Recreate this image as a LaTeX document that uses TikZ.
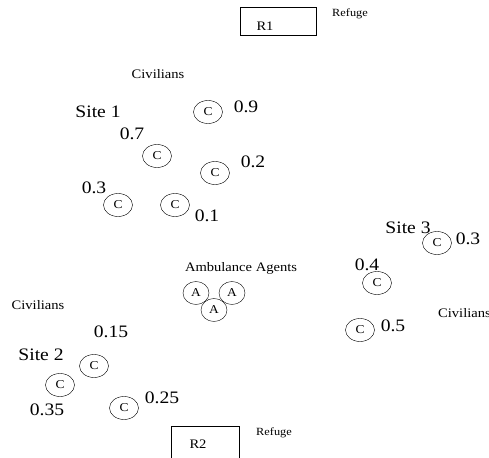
\documentclass[tikz,border=0pt]{standalone}
\usepackage{fontspec}
\setmainfont[FakeStretch=1.12]{Liberation Serif}
\usetikzlibrary{shapes.geometric}
\begin{document}
\begin{tikzpicture}[x=1pt,y=-1pt,
  civ/.style={ellipse,draw,thin,minimum width=29pt,minimum height=23pt,inner sep=0pt,font=\fontsize{12}{12}\selectfont},
  amb/.style={ellipse,draw,thin,minimum width=26pt,minimum height=23pt,inner sep=0pt,font=\fontsize{12}{12}\selectfont},
  refugebox/.style={draw,thin,minimum width=76pt,minimum height=28pt,inner sep=0pt},
  lbl/.style={inner sep=0pt,font=\fontsize{11}{12}\selectfont},
  boxlbl/.style={inner sep=0pt,font=\fontsize{13}{14}\selectfont},
  civlbl/.style={inner sep=0pt,font=\fontsize{13}{14}\selectfont},
  big/.style={inner sep=0pt,font=\fontsize{17.5}{18}\selectfont}]
\useasboundingbox (0,0) rectangle (489,457);
\clip (0,0) rectangle (489,457);

% refuges
\node[refugebox] (r1) at (278,21) {};
\node[boxlbl] (r1t) at (265,26) {R1};
\node[lbl] (ref1) at (350,14) {Refuge};
\draw[thin] (171,475) |- (239,426) -- (239,475);
\node[boxlbl] (r2t) at (198,444) {R2};
\node[lbl] (ref2) at (274,433) {Refuge};

% site 1
\node[civlbl] (civ1) at (158,74) {Civilians};
\node[big] (s1) at (98,112) {Site 1};
\node[civ] (c11) at (208,112) {C};
\node[big] (p11) at (246,107) {0.9};
\node[civ] (c12) at (157,156) {C};
\node[big] (p12) at (132,134) {0.7};
\node[civ] (c13) at (215,173) {C};
\node[big] (p13) at (253,162) {0.2};
\node[civ] (c14) at (118,205) {C};
\node[big] (p14) at (94,188) {0.3};
\node[civ] (c15) at (175,205) {C};
\node[big] (p15) at (207,216) {0.1};

% site 3
\node[big] (s3) at (408,228) {Site 3};
\node[civ] (c31) at (437,243) {C};
\node[big] (p31) at (468,239) {0.3};
\node[civ] (c32) at (377,283) {C};
\node[big] (p32) at (367,265) {0.4};
\node[civ] (c33) at (360,330) {C};
\node[big] (p33) at (393,326) {0.5};
\node[civlbl,anchor=west] (civ3) at (438,313) {Civilians};

% ambulance agents
\node[civlbl] (amt) at (241,268) {Ambulance Agents};
\node[amb] (a1) at (196,293) {A};
\node[amb] (a2) at (232,293) {A};
\node[amb] (a3) at (214,310) {A};

% site 2
\node[civlbl] (civ2) at (38,305) {Civilians};
\node[big] (p21) at (111,332) {0.15};
\node[big] (s2) at (41,355) {Site 2};
\node[civ] (c21) at (94,366) {C};
\node[civ] (c22) at (60,385) {C};
\node[big] (p22) at (47,410) {0.35};
\node[civ] (c23) at (124,408) {C};
\node[big] (p23) at (162,398) {0.25};
\end{tikzpicture}
\end{document}
